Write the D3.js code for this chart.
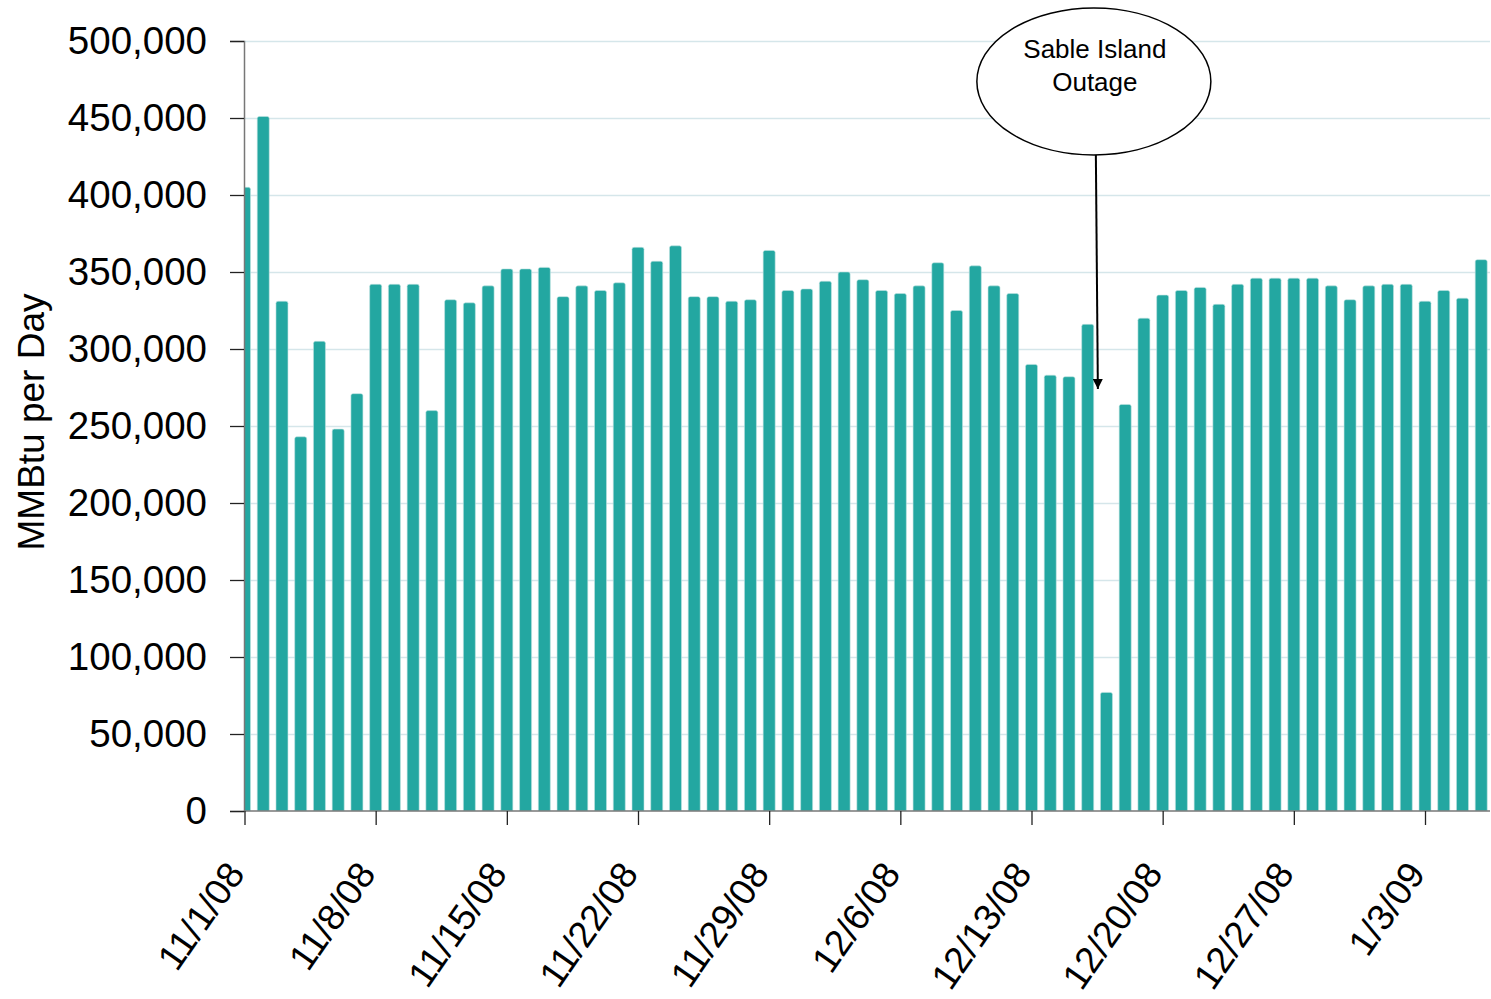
<!DOCTYPE html>
<html>
<head>
<meta charset="utf-8">
<script src="https://cdn.jsdelivr.net/npm/d3@7"></script>
<style>
  body { margin: 0; background: #fff; }
  text { font-family: "Liberation Sans", Arial, sans-serif; }
</style>
</head>
<body>
<div id="chart"></div>
<script>
// daily volumes, 11/1/08 through 1/6/09 (MMBtu per day)
const startDate = "2008-11-01";
const volumes = [
  405000, 451000, 331000, 243000, 305000, 248000, 271000, 342000, 342000, 342000,
  260000, 332000, 330000, 341000, 352000, 352000, 353000, 334000, 341000, 338000,
  343000, 366000, 357000, 367000, 334000, 334000, 331000, 332000, 364000, 338000,
  339000, 344000, 350000, 345000, 338000, 336000, 341000, 356000, 325000, 354000,
  341000, 336000, 290000, 283000, 282000, 316000, 77000, 264000, 320000, 335000,
  338000, 340000, 329000, 342000, 346000, 346000, 346000, 346000, 341000, 332000,
  341000, 342000, 342000, 331000, 338000, 333000, 358000
];
const yTicks = [0, 50000, 100000, 150000, 200000, 250000, 300000, 350000, 400000, 450000, 500000];
const xTickLabels = ["11/1/08", "11/8/08", "11/15/08", "11/22/08", "11/29/08", "12/6/08", "12/13/08", "12/20/08", "12/27/08", "1/3/09"];

const width = 1491;
const height = 999;
const margin = { left: 244, right: 1, top: 41, bottom: 188 };

const parse = d3.timeParse("%Y-%m-%d");
const day0 = parse(startDate);
const data = volumes.map((v, i) => ({ date: d3.timeDay.offset(day0, i), value: v }));

const svg = d3.select("#chart").append("svg")
  .attr("width", width)
  .attr("height", height);

// day centres sit on the ticks, 11/1 on the axis itself
const x = d3.scaleTime()
  .domain([day0, d3.timeDay.offset(day0, 63)])
  .range([margin.left + 0.5, 1425]);

const y = d3.scaleLinear()
  .domain([0, 500000])
  .range([height - margin.bottom, margin.top]);

const plotRight = width - margin.right;
const barW = 12;

// gridlines
svg.append("g")
  .selectAll("line")
  .data(yTicks.filter(d => d > 0))
  .join("line")
  .attr("x1", margin.left)
  .attr("x2", plotRight)
  .attr("y1", d => Math.round(y(d)) + 0.5)
  .attr("y2", d => Math.round(y(d)) + 0.5)
  .attr("stroke", "#d5e6ea")
  .attr("stroke-width", 1.5);

// bars, clipped to the plot area so the first one is cut at the axis
svg.append("clipPath").attr("id", "plot")
  .append("rect")
  .attr("x", margin.left)
  .attr("y", 0)
  .attr("width", plotRight - margin.left)
  .attr("height", y(0));

svg.append("g")
  .attr("clip-path", "url(#plot)")
  .selectAll("path")
  .data(data)
  .join("path")
  .attr("fill", "#23a7a1")
  .attr("stroke", "#bfe3e1")
  .attr("stroke-width", 0.6)
  .attr("d", d => {
    const x0 = x(d.date) - barW / 2, x1 = x0 + barW;
    const top = y(d.value), bot = y(0), r = 2;
    return `M${x0},${bot}V${top + r}Q${x0},${top} ${x0 + r},${top}H${x1 - r}Q${x1},${top} ${x1},${top + r}V${bot}Z`;
  });

// y axis
const yAxis = svg.append("g")
  .attr("transform", `translate(${margin.left},0)`)
  .call(d3.axisLeft(y).tickValues(yTicks).tickSize(14).tickPadding(23)
    .tickFormat(d3.format(",")));
yAxis.select(".domain").attr("stroke", "#777").attr("stroke-width", 1.5);
yAxis.selectAll(".tick line").attr("stroke", "#222").attr("stroke-width", 1.3);
yAxis.selectAll(".tick text")
  .attr("font-size", 38.5)
  .attr("fill", "#000")
  .attr("font-family", "Liberation Sans, Arial, sans-serif");

// x axis, weekly ticks
const tickDates = d3.timeDay.range(day0, d3.timeDay.offset(day0, 67), 7);
const xAxis = svg.append("g")
  .attr("transform", `translate(0,${y(0)})`)
  .call(d3.axisBottom(x).tickValues(tickDates).tickSize(14)
    .tickFormat((d, i) => xTickLabels[i]));
xAxis.select(".domain")
  .attr("d", `M${margin.left},0H${plotRight}`)
  .attr("stroke", "#777").attr("stroke-width", 1.5);
xAxis.selectAll(".tick line").attr("stroke", "#222").attr("stroke-width", 1.3);
xAxis.selectAll(".tick text")
  .attr("font-size", 37)
  .attr("fill", "#000")
  .attr("font-family", "Liberation Sans, Arial, sans-serif")
  .attr("text-anchor", "end")
  .attr("dy", 0)
  .attr("y", 0)
  .attr("transform", "translate(1,63) rotate(-55)");

// y axis title
svg.append("text")
  .attr("transform", `translate(44,${(y(0) + y(500000)) / 2 - 4}) rotate(-90)`)
  .attr("text-anchor", "middle")
  .attr("font-size", 37)
  .text("MMBtu per Day");

// annotation: outage callout
const outageDate = d3.timeHour.offset(d3.timeDay.offset(day0, 45), 13);
const ax = x(outageDate);
svg.append("defs").append("marker")
  .attr("id", "arrow")
  .attr("viewBox", "0 0 10 10")
  .attr("refX", 10).attr("refY", 5)
  .attr("markerWidth", 5).attr("markerHeight", 5)
  .attr("orient", "auto")
  .append("path").attr("d", "M0,0L10,5L0,10Z").attr("fill", "#000");

svg.append("line")
  .attr("x1", ax - 2).attr("y1", 155)
  .attr("x2", ax).attr("y2", y(274000))
  .attr("stroke", "#000").attr("stroke-width", 2)
  .attr("marker-end", "url(#arrow)");

svg.append("ellipse")
  .attr("cx", ax - 4).attr("cy", 81.5)
  .attr("rx", 117).attr("ry", 73.5)
  .attr("fill", "#fff")
  .attr("stroke", "#000").attr("stroke-width", 1.5);

svg.append("text")
  .attr("x", ax - 3).attr("y", 0)
  .attr("text-anchor", "middle")
  .attr("font-size", 26)
  .selectAll("tspan")
  .data(["Sable Island", "Outage"])
  .join("tspan")
  .attr("x", ax - 3)
  .attr("y", (d, i) => 58 + i * 33)
  .text(d => d);
</script>
</body>
</html>
